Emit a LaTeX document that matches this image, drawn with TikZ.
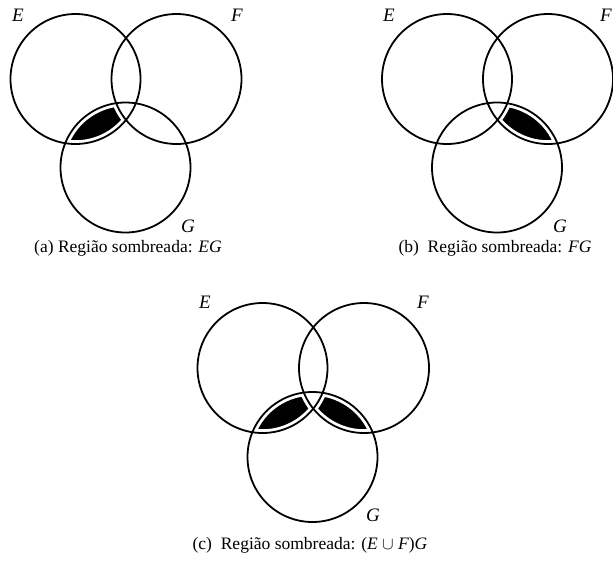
\documentclass[tikz,border=0pt]{standalone}
\usepackage{fontspec}
\setmainfont{Liberation Serif}
\begin{document}
\begin{tikzpicture}[x=1pt,y=-1pt,
  ring/.style={draw=black, line width=1.8pt},
  gap/.style={draw=white, line width=7.5pt},
  setlabel/.style={font=\fontsize{19}{22}\selectfont\itshape, inner sep=0pt},
  caption/.style={font=\fontsize{17.5}{20}\selectfont, anchor=base, inner sep=0pt}]
\useasboundingbox (0,0) rectangle (613,560);
\def\R{65pt}
% centres
\coordinate (Ea) at (75.5,79);  \coordinate (Fa) at (176.5,79); \coordinate (Ga) at (125.5,167.5);
\coordinate (Eb) at (447,79);   \coordinate (Fb) at (548,79);   \coordinate (Gb) at (497,167.5);
\coordinate (Ec) at (262.5,368);\coordinate (Fc) at (364,368);  \coordinate (Gc) at (312.5,457);
% ---------- (a) EG ----------
\begin{scope}
  \clip (Ea) circle[radius=\R];
  \clip (Ga) circle[radius=\R];
  \fill[black] (Ga) circle[radius=\R];
  \fill[white] (Fa) circle[radius=\R];
\end{scope}
% ---------- (b) FG ----------
\begin{scope}
  \clip (Fb) circle[radius=\R];
  \clip (Gb) circle[radius=\R];
  \fill[black] (Gb) circle[radius=\R];
  \fill[white] (Eb) circle[radius=\R];
\end{scope}
% ---------- (c) (E u F)G ----------
\begin{scope}
  \clip (Gc) circle[radius=\R];
  \fill[black] (Ec) circle[radius=\R];
  \fill[black] (Fc) circle[radius=\R];
  \begin{scope}
    \clip (Ec) circle[radius=\R];
    \fill[white] (Fc) circle[radius=\R];
  \end{scope}
\end{scope}
% white margins
\foreach \c in {Ea,Fa,Ga,Eb,Fb,Gb,Ec,Fc,Gc}
  \draw[gap] (\c) circle[radius=\R];
% circles
\foreach \c in {Ea,Fa,Ga,Eb,Fb,Gb,Ec,Fc,Gc}
  \draw[ring] (\c) circle[radius=\R];
% labels
\node[setlabel] (lEa) at (18,15) {E};
\node[setlabel] (lFa) at (237,15) {F};
\node[setlabel] (lGa) at (188,226) {G};
\node[setlabel] (lEb) at (389,15) {E};
\node[setlabel] (lFb) at (606,15) {F};
\node[setlabel] (lGb) at (560,226) {G};
\node[setlabel] (lEc) at (205,302) {E};
\node[setlabel] (lFc) at (423,302) {F};
\node[setlabel] (lGc) at (373,515) {G};
% captions
\node[caption] (capa) at (128,252) {(a) Região sombreada: \textit{EG}};
\node[caption] (capb) at (495,252) {(b)\ \ Região sombreada: \textit{FG}};
\node[caption] (capc) at (310,549) {(c)\ \ Região sombreada: (\textit{E} $\cup$ \textit{F})\textit{G}};
\end{tikzpicture}
\end{document}
